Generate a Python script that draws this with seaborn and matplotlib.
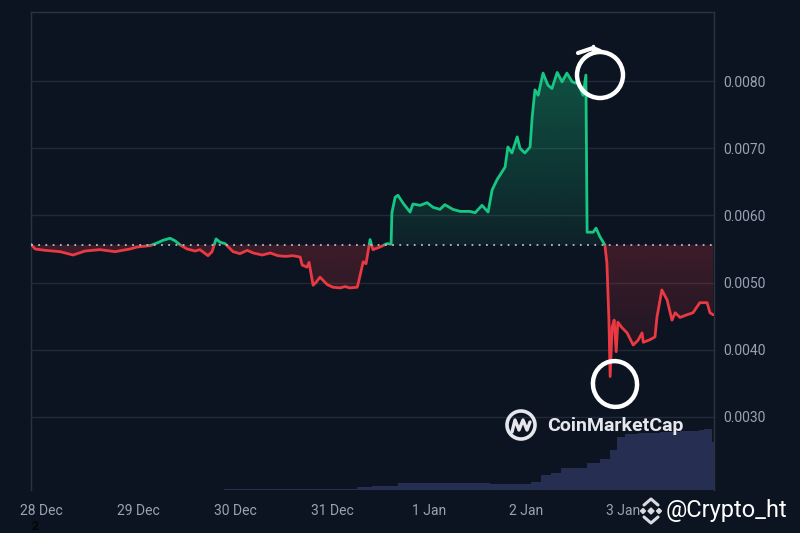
import numpy as np
import seaborn as sns
import matplotlib.pyplot as plt
from matplotlib.patches import Ellipse, Circle, Polygon, Rectangle
from matplotlib.path import Path

# hours since 28 Dec 00:00 and price (USD)
hours = [-2.5, -1.5, 1.0, 4.7, 7.9, 10.9, 14.6, 18.3, 22.0, 23.8, 27.0, 28.7, 30.2, 31.9,
         33.2, 34.4, 36.1, 38.1, 39.3, 41.3, 42.3, 43.3, 44.3, 45.5, 47.5, 49.2, 51.0,
         52.5, 54.7, 56.7, 58.6, 60.4, 62.3, 64.1, 64.6, 65.8, 66.3, 67.3, 68.0, 69.0,
         70.8, 72.2, 74.0, 75.2, 76.4, 78.2, 78.4, 79.7, 80.4, 81.4, 82.1, 83.9, 85.6,
         86.6, 86.8, 87.6, 88.3, 89.6, 91.3, 92.0, 93.8, 95.5, 97.0, 98.7, 99.9, 101.9,
         103.7, 106.1, 107.4, 109.1, 110.6, 111.6, 112.8, 114.8, 115.5, 116.5, 117.8,
         118.5, 119.7, 121.0, 121.5, 122.2, 123.0, 124.2, 125.4, 126.4, 127.7, 128.9,
         130.1, 131.4, 132.9, 134.1, 134.8, 135.1, 136.6, 137.3, 138.3, 139.5, 140.0,
         140.5, 140.8, 141.3, 141.8, 142.3, 142.7, 143.7, 145.0, 146.5, 147.7, 148.7,
         149.0, 150.7, 151.9, 152.4, 153.6, 154.9, 156.1, 156.9, 158.1, 159.8, 161.3,
         163.0, 164.8, 165.5, 166.3]
price = [0.00557, 0.00550, 0.00548, 0.00546, 0.00541, 0.00547, 0.00549, 0.00546, 0.00550,
         0.00553, 0.00555, 0.00559, 0.00563, 0.00566, 0.00562, 0.00556, 0.00550, 0.00547,
         0.00549, 0.00540, 0.00546, 0.00565, 0.00560, 0.00558, 0.00546, 0.00543, 0.00548,
         0.00544, 0.00541, 0.00544, 0.00540, 0.00539, 0.00540, 0.00538, 0.00526, 0.00523,
         0.00530, 0.00496, 0.00500, 0.00508, 0.00497, 0.00493, 0.00492, 0.00494, 0.00492,
         0.00493, 0.00497, 0.00531, 0.00528, 0.00564, 0.00549, 0.00553, 0.00558, 0.00557,
         0.00604, 0.00627, 0.00630, 0.00618, 0.00605, 0.00617, 0.00615, 0.00619, 0.00612,
         0.00609, 0.00616, 0.00609, 0.00606, 0.00606, 0.00604, 0.00615, 0.00605, 0.00638,
         0.00653, 0.00672, 0.00702, 0.00693, 0.00717, 0.00700, 0.00693, 0.00702, 0.00746,
         0.00787, 0.00779, 0.00812, 0.00794, 0.00789, 0.00813, 0.00799, 0.00812, 0.00799,
         0.00796, 0.00779, 0.00809, 0.00575, 0.00575, 0.00581, 0.00568, 0.00556, 0.00529,
         0.00444, 0.00360, 0.00434, 0.00444, 0.00397, 0.00441, 0.00433, 0.00425, 0.00407,
         0.00414, 0.00425, 0.00411, 0.00415, 0.00419, 0.00449, 0.00489, 0.00474, 0.00444,
         0.00455, 0.00448, 0.00452, 0.00455, 0.00470, 0.00470, 0.00455, 0.00452]
base_price = 0.00556

# 24h volume (thousand USD), stepped
vol_hours = [-2.5, 45.3, 78.2, 81.9, 88.3, 111.1, 121.2, 123.7, 126.2, 128.6, 135.1, 138.3,
             140.8, 142.5, 144.5, 147.7, 153.1, 158.1, 162.8, 164.0, 166.0, 166.5]
volume = [3, 10, 25, 40, 70, 60, 80, 150, 170, 220, 270, 310, 400, 530, 560, 570, 580, 590,
          600, 610, 480, 380]

day_ticks = [0, 24, 48, 72, 96, 120, 144]
day_labels = ["28 Dec", "29 Dec", "30 Dec", "31 Dec", "1 Jan", "2 Jan", "3 Jan"]
price_ticks = [0.0030, 0.0040, 0.0050, 0.0060, 0.0070, 0.0080]

BG = "#0d1421"
GREEN = "#16c784"
RED = "#ea3943"
TXT = "#9aa1b2"

sns.set_theme(style="dark", rc={"figure.facecolor": BG, "axes.facecolor": BG})
plt.rcParams["font.family"] = ["Roboto", "DejaVu Sans"]

fig = plt.figure(figsize=(8, 5.33), dpi=100)
ax = fig.add_axes([31 / 800, 1 - 490 / 533, (714 - 31) / 800, (490 - 12) / 533])
x0, x1 = -2.5, 166.5
y0, y1 = 0.00191, 0.00903

# volume on a twin axis
vax = ax.twinx()
vax.fill_between(vol_hours, volume, step="post", color="#262e52", lw=0)
vax.set_ylim(0, 4780)
vax.set_yticks([])
vax.set_zorder(0)
ax.set_zorder(1)
ax.patch.set_visible(False)

hx = np.array(hours)
hp = np.array(price)

# gradient fills clipped to area between price and baseline
up = ax.fill_between(hx, hp, base_price, where=hp >= base_price, interpolate=True,
                     color="none", lw=0)
dn = ax.fill_between(hx, hp, base_price, where=hp <= base_price, interpolate=True,
                     color="none", lw=0)
grad = np.linspace(0, 1, 256).reshape(-1, 1)
gimg = np.zeros((256, 1, 4))
gimg[..., :3] = [0x16 / 255, 0xc7 / 255, 0x84 / 255]
gimg[..., 3] = (0.08 + 0.27 * grad)[:, 0:1]
im = ax.imshow(gimg, extent=[x0, x1, base_price, 0.0082], origin="lower", aspect="auto",
               zorder=1)
im.set_clip_path(Path.make_compound_path(*up.get_paths()), ax.transData)
rimg = np.zeros((256, 1, 4))
rimg[..., :3] = [0xea / 255, 0x39 / 255, 0x43 / 255]
rimg[..., 3] = (0.05 + 0.17 * grad)[:, 0:1]
im2 = ax.imshow(rimg, extent=[x0, x1, 0.0036, base_price], origin="lower", aspect="auto",
                zorder=1)
im2.set_clip_path(Path.make_compound_path(*dn.get_paths()), ax.transData)

# price line: green above the baseline, red below
sns.lineplot(x=hours, y=price, ax=ax, color=GREEN, lw=2, zorder=3)
clip_up = Rectangle((x0, base_price), x1 - x0, y1 - base_price, transform=ax.transData)
ax.lines[-1].set_clip_path(clip_up)
sns.lineplot(x=hours, y=price, ax=ax, color=RED, lw=2, zorder=3)
clip_dn = Rectangle((x0, y0), x1 - x0, base_price - y0, transform=ax.transData)
ax.lines[-1].set_clip_path(clip_dn)

ax.axhline(base_price, color="#b8bcc6", lw=1.3, ls=(0, (1, 3)), zorder=4)

ax.set_xlim(x0, x1)
ax.set_ylim(y0, y1)
vax.set_xlim(x0, x1)
for v in price_ticks:
    ax.axhline(v, color="#222a38", lw=1, zorder=0.5)
ax.grid(False)
vax.grid(False)

ax.set_xticks(day_ticks, day_labels)
ax.yaxis.tick_right()
ax.set_yticks(price_ticks, [f"{v:.4f}" for v in price_ticks])
ax.tick_params(axis="x", colors=TXT, labelsize=10, length=0, pad=10)
ax.tick_params(axis="y", colors=TXT, labelsize=10, length=0, pad=7)
ax.set_xlabel("")
ax.set_ylabel("")
for a in (ax, vax):
    for s in a.spines.values():
        s.set_visible(False)
for side in ("left", "right", "top"):
    vax.spines[side].set_visible(True)
    vax.spines[side].set_color("#2b3240")
    vax.spines[side].set_linewidth(1)

# overlay in pixel coordinates for watermarks and hand-drawn marks
ov = fig.add_axes([0, 0, 1, 1], zorder=10)
ov.set_xlim(0, 800)
ov.set_ylim(533, 0)
ov.axis("off")
ov.patch.set_visible(False)
ov.add_patch(Ellipse((600, 75), 46, 46, fill=False, ec="white", lw=3.2))
ov.plot([578, 593, 600], [53, 48, 51], color="white", lw=3, solid_capstyle="round")
ov.plot([593, 593], [46, 52], color="white", lw=2.5, solid_capstyle="round")
ov.add_patch(Ellipse((615, 384), 44, 46, angle=-15, fill=False, ec="white", lw=3.2))

# CoinMarketCap logo
ov.add_patch(Circle((521, 425), 14, fill=False, ec="#e6e7ec", lw=2.6))
ov.plot([512, 515, 519, 523, 527, 530], [432, 420, 430, 420, 430, 422], color="#e6e7ec",
        lw=2.4, solid_joinstyle="round")
ov.text(547, 426, "CoinMarketCap", color="#e6e7ec", fontsize=14, fontweight="bold",
        va="center", ha="left")

# Binance-like mark and handle
for cx, cy, r in [(651, 511, 3), (643, 511, 2.5), (659, 511, 2.5)]:
    ov.add_patch(Polygon([(cx - r, cy), (cx, cy - r), (cx + r, cy), (cx, cy + r)],
                         closed=True, color="#d8dbe0"))
ov.plot([644, 651, 658], [505, 499, 505], color="#d8dbe0", lw=2.2)
ov.plot([644, 651, 658], [517, 523, 517], color="#d8dbe0", lw=2.2)
ov.text(666, 511, "@Crypto_ht", color="white", fontsize=17, va="center", ha="left")
ov.text(35, 527, "2", color="#050505", fontsize=9, fontweight="bold", va="center",
        ha="center")

fig.savefig("out.png", dpi=100, facecolor=BG)
